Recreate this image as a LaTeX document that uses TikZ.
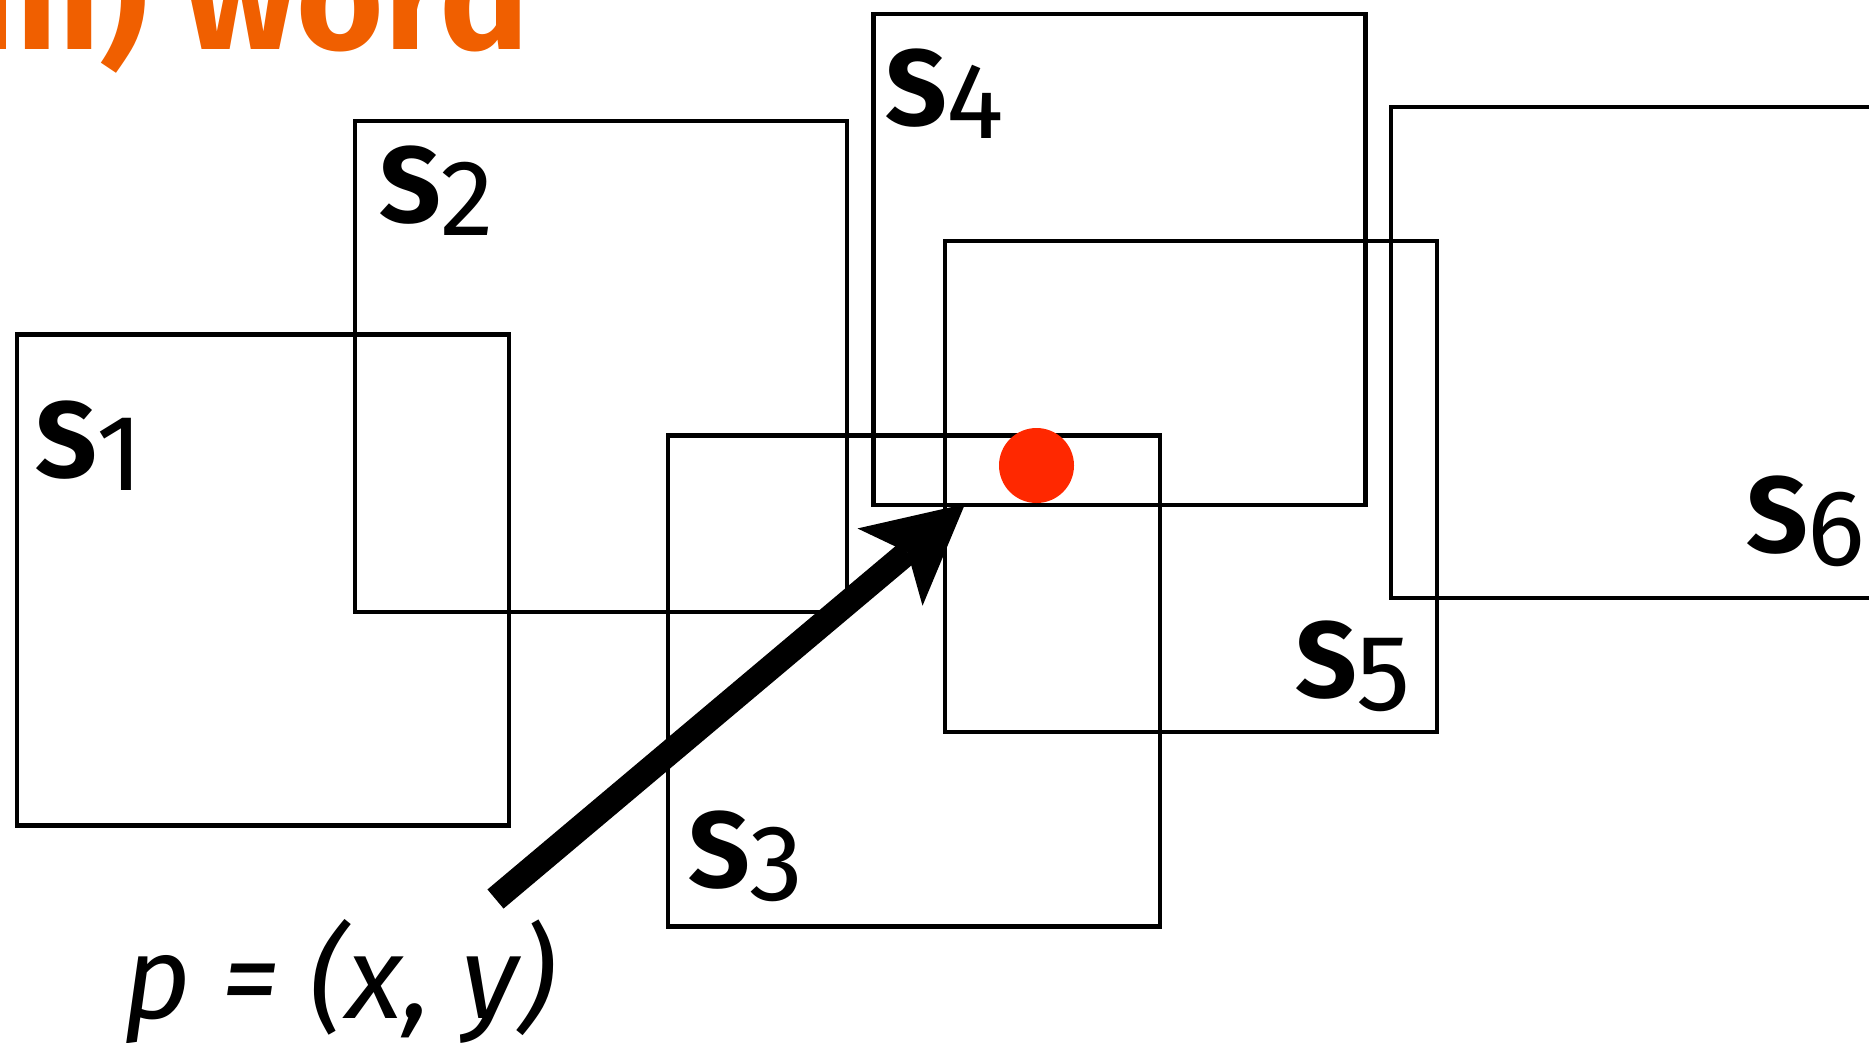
\documentclass[tikz,border=0pt]{standalone}
\usepackage{fontspec}
\setmainfont{Fira Sans}
\usetikzlibrary{arrows.meta}
\definecolor{titleorange}{RGB}{240,95,0}
\definecolor{dotred}{RGB}{255,40,0}
\begin{document}
\begin{tikzpicture}[x=1pt,y=-1pt,
  sq/.style={draw=black, line width=4.4pt, minimum width=492pt, minimum height=491pt, inner sep=0pt, outer sep=0pt},
  lbl/.style={anchor=base west, inner sep=0pt, font=\fontsize{108}{108}\selectfont},
  bigarrow/.style={line width=25pt, -{Stealth[length=98pt,width=101pt,inset=23pt,line width=0pt]}},
  reddot/.style={circle, fill=dotred, minimum size=75pt, inner sep=0pt}
]
\useasboundingbox (0,0) rectangle (1869,1042);
% title fragment
\node[anchor=base east, inner sep=0pt, text=titleorange, font=\fontsize{150}{150}\selectfont\bfseries] (title) at (530,49) {m) word};
% squares
\node[sq] (s1) at (263,580) {};
\node[sq] (s2) at (601.2,366.5) {};
\node[sq] (s3) at (913.8,681) {};
\node[sq] (s4) at (1119.5,259.7) {};
\node[sq] (s5) at (1191.2,486.5) {};
\node[sq] (s6) at (1637,352.7) {};
% labels
\node[lbl] (l1) at (35,477) {\textbf{S}\raisebox{-13pt}{1}};
\node[lbl] (l2) at (379,222) {\textbf{S}\raisebox{-13pt}{2}};
\node[lbl] (l3) at (688,887) {\textbf{S}\raisebox{-13pt}{3}};
\node[lbl] (l4) at (885,125) {\textbf{S}\raisebox{-13pt}{4}};
\node[lbl] (l5) at (1295,697) {\textbf{S}\raisebox{-13pt}{5}};
\node[lbl] (l6) at (1746,552) {\textbf{S}\raisebox{-13pt}{6}};
% point
\node[reddot] (pt) at (1036.5,465.5) {};
% formula
\node[anchor=base west, inner sep=0pt, font=\fontsize{117}{117}\selectfont\itshape] (eq) at (123,1018) {p = (x, y)};
% arrow
\coordinate (tail) at (495.5,899);
\coordinate (tip) at (965,504);
\draw[bigarrow] (tail) -- (tip);
\end{tikzpicture}
\end{document}
